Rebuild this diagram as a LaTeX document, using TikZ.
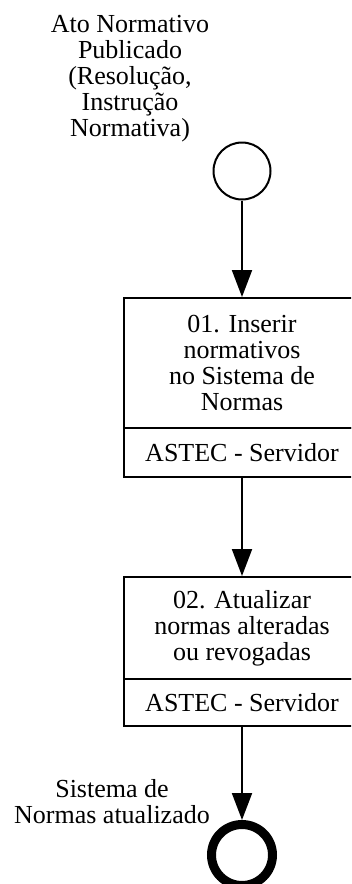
\documentclass[tikz,border=0pt]{standalone}
\usepackage{fontspec}
\setmainfont{Liberation Serif}
\usetikzlibrary{arrows.meta, positioning}

\tikzset{
  texto/.style={font=\fontsize{26}{26}\selectfont},
  evento/.style={circle, draw, line width=2pt, minimum size=57pt, inner sep=0pt},
  fimevento/.style={circle, draw, line width=9pt, minimum size=61pt, inner sep=0pt},
  tarefa/.style={rectangle, draw, line width=2pt, minimum width=236pt, inner sep=0pt, align=center, texto},
  rotulo/.style={align=center, inner sep=0pt, texto},
  fluxo/.style={line width=2pt, -{Triangle[length=27pt,width=20pt]}}
}

\begin{document}
\begin{tikzpicture}[x=1pt, y=-1pt]
  \clip (0,0) rectangle (351,884);

  % Evento inicial
  \node[evento] (inicio) at (242,171) {};
  \node[rotulo] (rotinicio) at (130,79) {Ato Normativo\\Publicado\\(Resolução,\\Instrução\\Normativa)};

  % Tarefa 01
  \node[tarefa, minimum height=130pt] (tarefa1) at (242,363) {01. Inserir\\normativos\\no Sistema de\\Normas};
  \node[tarefa, minimum height=49pt] (resp1) at (242,452.5) {ASTEC - Servidor};

  % Tarefa 02
  \node[tarefa, minimum height=102pt] (tarefa2) at (242,628) {02. Atualizar\\normas alteradas\\ou revogadas};
  \node[tarefa, minimum height=47pt] (resp2) at (242,702.5) {ASTEC - Servidor};

  % Evento final
  \node[fimevento] (fim) at (242,855) {};
  \node[rotulo] (rotfim) at (112,802) {Sistema de\\Normas atualizado};

  % Fluxos
  \draw[fluxo] (inicio) -- (tarefa1);
  \draw[fluxo] (resp1) -- (tarefa2);
  \draw[fluxo] (resp2) -- (fim);
\end{tikzpicture}
\end{document}
